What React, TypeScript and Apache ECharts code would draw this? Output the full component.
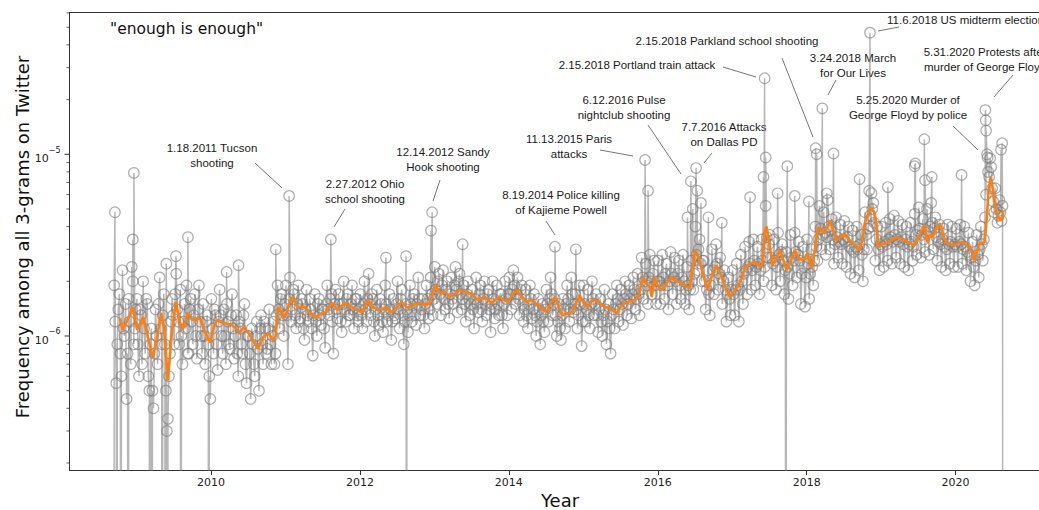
import React, { useEffect, useRef } from "react";
import * as echarts from "echarts";

// ---------------- data (frequencies in units of 1e-6) ----------------
const UNIT = 1e-6;
const ZERO_FLOOR = 1e-12; // days with zero frequency (drawn below the log floor)

// gray samples, pass A: every 1/36 year starting 2008.70
const GRAY_START = 2008.7;
const GRAY_STEP = 1 / 36;
const gray2008 = [1.9, 0.55, 1.4, 0.8, 2.3, 1.0, 0.45, 1.6, 0.7, 2.0, 1.1];
const gray2009 = [1.6, 0.6, 1.3, 2.0, 0.8, 1.5, 0.5, 1.1, 0.4, 1.4, 0.7, 2.1, 0.9, 1.7, 0.5, 0.35, 0.8, 1.6, 0.9, 2.2, 1.2, 1.8, 0.7, 1.5, 1.9, 0.8, 1.6, 0.9, 1.7, 0.75, 1.9, 1.0, 1.5, 0.7, 1.3, 0.6];
const gray2010 = [1.6, 0.8, 1.3, 0.65, 1.8, 1.0, 1.4, 0.7, 1.2, 0.85, 1.7, 0.75, 1.3, 0.6, 1.1, 0.8, 1.5, 0.55, 1.0, 0.45, 0.9, 0.6, 1.2, 0.5, 1.3, 0.7, 1.1, 0.85, 1.4, 0.7, 1.2, 0.8, 1.9, 1.1, 1.7, 1.0];
const gray2011 = [1.9, 0.7, 2.1, 1.4, 1.7, 1.1, 1.9, 1.25, 1.5, 0.95, 1.8, 1.2, 1.4, 0.78, 1.7, 1.0, 1.6, 1.15, 1.4, 0.86, 1.9, 1.3, 1.7, 0.8, 1.8, 1.25, 1.5, 1.05, 2.0, 1.2, 1.7, 1.3, 1.9, 1.1, 1.6, 1.2];
const gray2012 = [1.7, 1.1, 2.0, 1.2, 2.2, 1.3, 1.6, 1.0, 1.8, 1.15, 1.5, 1.05, 1.9, 1.2, 1.7, 0.95, 1.6, 1.25, 2.0, 1.1, 1.8, 0.9, 1.5, 1.05, 1.9, 1.2, 1.7, 1.15, 2.1, 1.3, 1.6, 1.1, 1.9, 1.25, 2.1, 1.3];
const gray2013 = [2.4, 1.5, 2.2, 1.3, 2.3, 1.4, 2.0, 1.25, 2.1, 1.5, 2.4, 1.35, 2.2, 1.4, 1.9, 1.2, 2.0, 1.3, 1.8, 1.1, 2.1, 1.35, 1.9, 1.2, 2.0, 1.3, 1.8, 1.05, 2.0, 1.25, 1.9, 1.3, 1.7, 1.1, 2.0, 1.3];
const gray2014 = [2.1, 1.4, 2.3, 1.5, 2.1, 1.3, 1.9, 1.2, 1.8, 1.1, 1.9, 1.25, 1.7, 1.0, 1.6, 0.9, 1.5, 1.05, 1.8, 1.2, 2.1, 1.3, 1.6, 1.0, 1.5, 0.95, 1.6, 1.1, 1.9, 1.2, 2.1, 1.35, 1.7, 1.1, 1.9, 0.88];
const gray2015 = [1.9, 1.2, 1.8, 1.1, 2.0, 1.3, 1.7, 1.05, 1.6, 1.0, 1.8, 0.9, 1.5, 0.8, 1.7, 1.1, 1.9, 1.2, 1.8, 1.15, 2.0, 1.3, 1.9, 1.25, 2.1, 1.4, 2.2, 1.3, 2.7, 1.6, 2.5, 1.5, 2.8, 1.7, 2.6, 1.5];
const gray2016 = [2.6, 1.5, 2.8, 1.6, 2.5, 1.4, 2.9, 1.7, 2.7, 1.5, 2.6, 1.6, 2.8, 1.5, 2.4, 1.4, 2.6, 1.8, 4.0, 2.3, 3.4, 2.0, 2.6, 1.4, 2.3, 1.3, 3.0, 1.7, 3.2, 1.8, 2.7, 1.5, 2.3, 1.2, 2.1, 1.3];
const gray2017 = [2.3, 1.3, 2.5, 1.2, 2.8, 1.5, 3.1, 1.7, 3.3, 1.8, 3.4, 1.9, 3.1, 1.7, 3.4, 2.0, 5.2, 2.7, 3.6, 1.9, 3.4, 1.8, 3.7, 2.0, 3.2, 1.7, 2.9, 1.6, 3.6, 1.9, 3.7, 2.1, 3.3, 1.5, 3.1, 1.45];
const gray2018 = [3.4, 1.6, 3.0, 1.9, 4.0, 2.6, 5.2, 3.0, 4.8, 2.8, 5.6, 3.0, 4.4, 2.5, 4.5, 2.7, 4.1, 2.5, 4.3, 2.4, 4.0, 2.2, 3.8, 2.1, 4.0, 2.3, 3.6, 2.0, 4.8, 3.0, 6.3, 4.0, 5.4, 2.6, 4.0, 2.3];
const gray2019 = [4.0, 2.4, 4.2, 2.6, 4.4, 2.5, 4.6, 2.7, 4.3, 2.5, 4.1, 2.4, 4.0, 2.3, 4.2, 2.6, 4.7, 2.8, 5.1, 2.7, 4.4, 2.9, 5.0, 2.8, 5.4, 3.0, 4.5, 2.6, 4.1, 2.4, 3.9, 2.3, 4.1, 2.5, 4.0, 2.4];
const gray2020 = [3.9, 2.4, 4.1, 2.5, 4.0, 2.3, 3.7, 2.0, 3.3, 1.9, 3.6, 2.1, 4.0, 2.6, 4.5, 10, 7.5, 8.5, 5.5, 6.5, 4.2, 5.6, 4.3];

// gray samples, pass B: same spacing, shifted by half a step
const midB2008 = [1.2, 0.9, 1.7, 0.6, 1.1, 1.5, 0.8, 1.2, 2.4, 0.9, 1.4];
const midB2009 = [0.9, 1.4, 0.7, 1.1, 1.6, 0.6, 0.9, 0.5, 0.8, 1.0, 1.5, 1.1, 1.3, 0.9, 0.3, 0.6, 1.2, 1.3, 1.7, 1.4, 0.9, 1.0, 1.2, 1.1, 0.8, 1.4, 1.2, 1.3, 1.0, 1.4, 1.2, 0.8, 1.0, 1.2, 0.9, 0.45];
const midB2010 = [1.1, 1.4, 0.9, 1.2, 1.3, 0.8, 1.0, 1.5, 0.9, 1.3, 1.1, 1.0, 0.8, 1.2, 0.9, 1.3, 0.7, 1.0, 0.8, 1.1, 0.7, 1.0, 0.85, 1.1, 0.9, 1.2, 0.8, 1.1, 0.9, 1.0, 0.7, 1.3, 1.4, 1.6, 1.3, 1.5];
const midB2011 = [1.3, 1.6, 1.2, 1.8, 1.3, 1.5, 1.2, 1.6, 1.1, 1.4, 1.3, 1.6, 1.1, 1.3, 1.2, 1.5, 1.3, 1.4, 1.1, 1.5, 1.4, 1.6, 1.2, 1.5, 1.4, 1.7, 1.2, 1.5, 1.4, 1.6, 1.3, 1.5, 1.4, 1.6, 1.3, 1.4];
const midB2012 = [1.3, 1.5, 1.4, 1.6, 1.5, 1.7, 1.2, 1.4, 1.3, 1.6, 1.2, 1.4, 1.5, 1.3, 1.4, 1.2, 1.3, 1.5, 1.4, 1.6, 1.3, 1.2, 1.4, 1.3, 1.5, 1.6, 1.3, 1.5, 1.6, 1.4, 1.3, 1.5, 1.6, 1.4, 1.7, 1.6];
const midB2013 = [1.8, 2.0, 1.7, 1.9, 1.6, 1.8, 1.5, 1.7, 1.6, 1.9, 1.8, 2.0, 1.7, 1.6, 1.5, 1.7, 1.6, 1.5, 1.4, 1.6, 1.5, 1.7, 1.4, 1.6, 1.5, 1.7, 1.4, 1.5, 1.6, 1.4, 1.5, 1.7, 1.3, 1.5, 1.6, 1.7];
const midB2014 = [1.7, 1.8, 1.9, 1.7, 1.6, 1.8, 1.5, 1.4, 1.3, 1.5, 1.6, 1.4, 1.3, 1.2, 1.4, 1.3, 1.2, 1.4, 1.5, 1.6, 1.7, 1.5, 1.3, 1.2, 1.1, 1.3, 1.4, 1.5, 1.6, 1.4, 1.7, 1.5, 1.4, 1.3, 1.5, 1.2];
const midB2015 = [1.5, 1.4, 1.3, 1.5, 1.6, 1.5, 1.3, 1.4, 1.2, 1.3, 1.4, 1.2, 1.1, 1.3, 1.4, 1.5, 1.6, 1.4, 1.5, 1.6, 1.7, 1.5, 1.6, 1.7, 1.8, 1.6, 1.7, 1.8, 2.1, 2.0, 1.9, 2.1, 2.0, 2.2, 1.9, 2.0];
const midB2016 = [2.0, 1.9, 2.1, 2.2, 1.9, 2.0, 2.2, 2.1, 2.0, 2.2, 1.9, 2.1, 2.0, 1.8, 1.9, 1.8, 2.0, 2.2, 2.8, 3.0, 2.5, 2.6, 2.0, 1.8, 1.7, 1.9, 2.3, 2.4, 2.5, 2.2, 2.1, 2.0, 1.8, 1.7, 1.6, 1.8];
const midB2017 = [1.7, 1.8, 1.9, 1.8, 2.0, 2.2, 2.3, 2.4, 2.5, 2.3, 2.6, 2.4, 2.5, 2.3, 2.6, 2.4, 3.5, 3.2, 2.7, 2.5, 2.6, 2.4, 2.8, 2.9, 2.6, 2.3, 2.4, 2.2, 2.7, 2.6, 2.9, 2.8, 2.6, 2.2, 2.4, 2.1];
const midB2018 = [2.5, 2.2, 2.4, 2.6, 3.1, 3.4, 3.9, 3.6, 3.7, 3.5, 4.0, 3.8, 3.4, 3.2, 3.5, 3.3, 3.2, 3.4, 3.3, 3.5, 3.1, 3.0, 2.9, 3.1, 3.0, 3.2, 2.8, 3.0, 3.6, 3.9, 4.6, 5.0, 4.2, 3.4, 3.0, 3.2];
const midB2019 = [3.1, 3.3, 3.2, 3.4, 3.5, 3.3, 3.6, 3.4, 3.3, 3.5, 3.2, 3.4, 3.1, 3.2, 3.3, 3.1, 3.6, 3.8, 3.9, 3.6, 3.4, 3.7, 3.8, 4.0, 4.2, 3.9, 3.5, 3.3, 3.2, 3.4, 3.1, 3.0, 3.2, 3.3, 3.1, 3.2];
const midB2020 = [3.1, 3.3, 3.2, 3.0, 3.1, 2.9, 2.8, 2.7, 2.4, 2.6, 2.8, 3.0, 3.2, 3.4, 6.0, 8.0, 9.5, 6.5, 4.8, 5.0, 4.6, 4.8, 5.2];

// single-day peaks [year, value]
const spikes: [number, number][] = [
  [2008.71, 4.8], [2008.95, 3.4], [2008.965, 7.9], [2009.4, 2.5], [2009.53, 2.75], [2009.69, 3.5],
  [2010.21, 2.25], [2010.37, 2.45], [2010.87, 3.0], [2011.05, 5.9], [2011.61, 3.4], [2012.35, 2.7],
  [2012.62, 2.75], [2012.955, 3.8], [2012.97, 4.8], [2013.38, 3.2], [2014.62, 3.1], [2014.9, 3.0],
  [2015.83, 9.3], [2015.87, 6.3], [2016.4, 4.5], [2016.445, 7.1], [2016.47, 5.0], [2016.515, 8.4],
  [2016.53, 6.3], [2016.58, 5.4], [2016.68, 4.5], [2016.86, 4.2], [2017.24, 5.8], [2017.42, 7.5],
  [2017.435, 26.2], [2017.45, 9.6], [2017.61, 6.1], [2017.74, 8.6], [2017.84, 5.9], [2018.03, 5.5],
  [2018.12, 10.8], [2018.135, 10.0], [2018.21, 17.9], [2018.27, 6.1], [2018.36, 10.1], [2018.71, 7.3],
  [2018.85, 46.7], [2018.87, 6.1], [2019.09, 6.6], [2019.45, 8.6], [2019.46, 8.9], [2019.58, 12.1],
  [2019.59, 7.2], [2019.68, 7.5], [2020.08, 7.7], [2020.4, 17.5], [2020.405, 15.4], [2020.41, 13.5],
  [2020.43, 9.6], [2020.61, 10.6], [2020.625, 11.5],
];

// days with zero occurrences
const zeroDays = [2008.695, 2008.74, 2008.79, 2008.89, 2009.18, 2009.21, 2009.34, 2009.39, 2009.42, 2009.6, 2009.97, 2012.63, 2017.72, 2020.635];

// rolling average [year, value]
const rollingAvg: [number, number][] = [
  [2008.78, 1.25], [2008.81, 1.08], [2008.87, 1.2], [2008.95, 1.44], [2009.01, 1.08], [2009.09, 1.27], [2009.15, 1.0], [2009.22, 0.76],
  [2009.28, 1.0], [2009.33, 1.34], [2009.37, 1.1], [2009.42, 0.57], [2009.48, 1.1], [2009.53, 1.54], [2009.58, 1.2], [2009.62, 1.08],
  [2009.69, 1.34], [2009.74, 1.25], [2009.81, 1.22], [2009.85, 1.27], [2009.92, 1.05], [2009.99, 0.92], [2010.03, 1.1], [2010.08, 1.22],
  [2010.17, 1.18], [2010.28, 1.15], [2010.39, 1.05], [2010.44, 1.12], [2010.5, 1.04], [2010.56, 0.95], [2010.63, 0.85], [2010.7, 0.98],
  [2010.77, 1.04], [2010.83, 0.95], [2010.87, 1.0], [2010.9, 1.44], [2010.95, 1.35], [2010.99, 1.26], [2011.05, 1.5], [2011.09, 1.64],
  [2011.17, 1.44], [2011.25, 1.45], [2011.33, 1.34], [2011.4, 1.26], [2011.46, 1.32], [2011.53, 1.34], [2011.62, 1.52], [2011.7, 1.39],
  [2011.8, 1.52], [2011.89, 1.44], [2011.96, 1.4], [2012.03, 1.35], [2012.11, 1.58], [2012.17, 1.45], [2012.24, 1.39], [2012.31, 1.4],
  [2012.36, 1.44], [2012.42, 1.35], [2012.47, 1.39], [2012.56, 1.54], [2012.62, 1.45], [2012.67, 1.44], [2012.74, 1.5], [2012.81, 1.52],
  [2012.87, 1.48], [2012.94, 1.52], [2013.01, 1.91], [2013.07, 1.72], [2013.14, 1.75], [2013.21, 1.64], [2013.28, 1.7], [2013.34, 1.79],
  [2013.41, 1.75], [2013.48, 1.72], [2013.58, 1.58], [2013.68, 1.64], [2013.77, 1.52], [2013.83, 1.6], [2013.88, 1.64], [2013.93, 1.58],
  [2013.99, 1.54], [2014.05, 1.7], [2014.11, 1.79], [2014.17, 1.65], [2014.24, 1.54], [2014.3, 1.58], [2014.35, 1.52], [2014.43, 1.45],
  [2014.51, 1.35], [2014.56, 1.5], [2014.62, 1.64], [2014.67, 1.45], [2014.72, 1.3], [2014.78, 1.33], [2014.85, 1.35], [2014.9, 1.5],
  [2014.95, 1.68], [2015.01, 1.5], [2015.06, 1.44], [2015.11, 1.55], [2015.15, 1.58], [2015.22, 1.52], [2015.29, 1.45], [2015.36, 1.42],
  [2015.4, 1.38], [2015.45, 1.34], [2015.5, 1.45], [2015.56, 1.52], [2015.62, 1.55], [2015.69, 1.58], [2015.74, 1.65], [2015.8, 2.11],
  [2015.84, 1.95], [2015.89, 1.86], [2015.92, 1.64], [2015.96, 2.11], [2016.0, 1.9], [2016.05, 1.79], [2016.12, 1.95], [2016.19, 2.11],
  [2016.24, 2.0], [2016.3, 1.98], [2016.36, 1.9], [2016.43, 1.83], [2016.47, 2.4], [2016.5, 2.97], [2016.56, 2.61], [2016.62, 2.1],
  [2016.67, 1.79], [2016.72, 2.1], [2016.79, 2.45], [2016.86, 2.11], [2016.91, 1.85], [2016.97, 1.64], [2017.02, 1.75], [2017.07, 1.86],
  [2017.13, 2.1], [2017.17, 2.39], [2017.23, 2.5], [2017.3, 2.55], [2017.4, 2.39], [2017.44, 3.82], [2017.46, 4.0], [2017.5, 3.2],
  [2017.54, 2.45], [2017.6, 2.7], [2017.64, 2.97], [2017.69, 2.6], [2017.73, 2.3], [2017.79, 2.6], [2017.84, 2.97], [2017.89, 2.7],
  [2017.95, 2.61], [2018.01, 2.85], [2018.07, 2.36], [2018.11, 3.0], [2018.15, 3.97], [2018.2, 3.8], [2018.24, 3.68], [2018.31, 4.33],
  [2018.35, 3.9], [2018.4, 3.37], [2018.46, 3.5], [2018.51, 3.68], [2018.56, 3.4], [2018.62, 3.24], [2018.67, 3.1], [2018.71, 2.97],
  [2018.75, 3.4], [2018.78, 4.17], [2018.85, 5.05], [2018.91, 4.8], [2018.94, 4.0], [2018.96, 3.08], [2019.02, 3.2], [2019.09, 3.28],
  [2019.15, 3.4], [2019.22, 3.5], [2019.28, 3.4], [2019.32, 3.37], [2019.38, 3.25], [2019.45, 3.16], [2019.52, 3.6], [2019.58, 4.07],
  [2019.62, 3.28], [2019.66, 3.6], [2019.69, 3.5], [2019.74, 3.9], [2019.79, 4.17], [2019.83, 3.6], [2019.88, 3.24], [2019.93, 3.2],
  [2019.99, 3.16], [2020.03, 3.25], [2020.08, 3.28], [2020.13, 3.2], [2020.19, 3.08], [2020.23, 2.8], [2020.25, 2.61], [2020.3, 3.0],
  [2020.32, 3.24], [2020.39, 3.28], [2020.42, 4.5], [2020.44, 6.1], [2020.47, 7.5], [2020.5, 6.5], [2020.52, 5.6], [2020.56, 4.6],
  [2020.6, 4.33], [2020.63, 4.4], [2020.64, 4.9],
];

// ticks
const xTickYears = [2010, 2012, 2014, 2016, 2018, 2020];
const yMajorTicks = [1e-6, 1e-5];
const yMinorTicks = [2e-7, 3e-7, 4e-7, 5e-7, 6e-7, 7e-7, 8e-7, 9e-7, 2e-6, 3e-6, 4e-6, 5e-6, 6e-6, 7e-6, 8e-6, 9e-6, 2e-5, 3e-5, 4e-5, 5e-5, 6e-5];

// annotations (text layout in pixels)
type Note = { lines: string[]; x: number; y: number; align?: string; leader: number[] };
const notes: Note[] = [
  { lines: ["1.18.2011 Tucson", "shooting"], x: 212, y: 148, leader: [255, 163, 282, 188] },
  { lines: ["2.27.2012 Ohio", "school shooting"], x: 365, y: 184, leader: [345, 209, 334, 227] },
  { lines: ["12.14.2012 Sandy", "Hook shooting"], x: 443, y: 152, leader: [440, 180, 433, 201] },
  { lines: ["8.19.2014 Police killing", "of Kajieme Powell"], x: 561, y: 195, leader: [546, 221, 555, 235] },
  { lines: ["11.13.2015 Paris", "attacks"], x: 569, y: 139, leader: [600, 150, 633, 156] },
  { lines: ["6.12.2016 Pulse", "nightclub shooting"], x: 624, y: 100, leader: [648, 125, 681, 174] },
  { lines: ["7.7.2016 Attacks", "on Dallas PD"], x: 724, y: 127, leader: [712, 153, 704, 163] },
  { lines: ["2.15.2018 Portland train attack"], x: 637, y: 65, leader: [723, 67, 756, 77] },
  { lines: ["2.15.2018 Parkland school shooting"], x: 727, y: 41, leader: [782, 58, 813, 137] },
  { lines: ["3.24.2018 March", "for Our Lives"], x: 853, y: 58, leader: [836, 80, 828, 95] },
  { lines: ["11.6.2018 US midterm election"], x: 887, y: 20, align: "left", leader: [899, 27, 878, 31] },
  { lines: ["5.31.2020 Protests after", "murder of George Floyd"], x: 985, y: 52, leader: [1013, 75, 994, 97] },
  { lines: ["5.25.2020 Murder of", "George Floyd by police"], x: 908, y: 100, leader: [953, 126, 978, 150] },
];

const X_MIN = 2008.1;
const X_MAX = 2021.12;
const Y_MIN = 1.83e-7;
const Y_MAX = 6.045e-5;

const AXIS_COLOR = "#333";
const DV = "DejaVu Sans";
const ARIAL = "Liberation Sans, Arial, sans-serif";

export default function App() {
  const ref = useRef<HTMLDivElement>(null);

  useEffect(() => {
    if (!ref.current) return;
    const chart = echarts.init(ref.current, undefined, { renderer: "svg" });

    const passA = [
      ...gray2008, ...gray2009, ...gray2010, ...gray2011, ...gray2012, ...gray2013,
      ...gray2014, ...gray2015, ...gray2016, ...gray2017, ...gray2018, ...gray2019, ...gray2020,
    ];
    const passB = [
      ...midB2008, ...midB2009, ...midB2010, ...midB2011, ...midB2012, ...midB2013,
      ...midB2014, ...midB2015, ...midB2016, ...midB2017, ...midB2018, ...midB2019, ...midB2020,
    ];
    const grayData = [
      ...passA.map((v, i) => [GRAY_START + i * GRAY_STEP, v * UNIT]),
      ...passB.map((v, i) => [GRAY_START + (i + 0.5) * GRAY_STEP, v * UNIT]),
      ...spikes.map(([t, v]) => [t, v * UNIT]),
      ...zeroDays.map((t) => [t, ZERO_FLOOR]),
    ].sort((a, b) => a[0] - b[0]);
    const avgData = rollingAvg.map(([t, v]) => [t, v * UNIT]);
    const tickData = [
      ...yMajorTicks.map((v) => [X_MIN, v, 1]),
      ...yMinorTicks.map((v) => [X_MIN, v, 0]),
    ];

    const graphics: any[] = [
      {
        type: "text", x: 110, y: 29,
        style: { text: '"enough is enough"', fontSize: 15.5, fontFamily: DV, fill: "#111", align: "left", verticalAlign: "middle", textAlign: "left", textVerticalAlign: "middle" },
      },
      {
        type: "text", x: 22, y: 237, rotation: Math.PI / 2,
        style: { text: "Frequency among all 3-grams on Twitter", fontSize: 18, fontFamily: DV, fill: "#111", align: "center", verticalAlign: "middle", textAlign: "center", textVerticalAlign: "middle" },
      },
      {
        type: "text", x: 560, y: 500,
        style: { text: "Year", fontSize: 18, fontFamily: DV, fill: "#111", align: "center", verticalAlign: "middle", textAlign: "center", textVerticalAlign: "middle" },
      },
    ];
    notes.forEach((n) => {
      const al = n.align || "center";
      n.lines.forEach((line, k) => {
        graphics.push({
          type: "text", x: n.x, y: n.y + k * 14.5,
          style: { text: line, fontSize: 11.5, fontFamily: ARIAL, fill: "#1a1a1a", align: al, verticalAlign: "middle", textAlign: al, textVerticalAlign: "middle" },
        });
      });
      graphics.push({
        type: "line",
        shape: { x1: n.leader[0], y1: n.leader[1], x2: n.leader[2], y2: n.leader[3] },
        style: { stroke: "#666", lineWidth: 0.9 },
      });
    });

    chart.setOption({
      animation: false,
      backgroundColor: "#fff",
      grid: { left: 69.5, right: 0, top: 12.3, bottom: 40, outerBoundsMode: "none", containLabel: false },
      xAxis: [
        {
          type: "value", min: X_MIN, max: X_MAX, position: "bottom",
          axisLine: { show: true, onZero: false, lineStyle: { color: AXIS_COLOR, width: 1 } },
          axisTick: { show: true, customValues: xTickYears, length: 5, inside: false, lineStyle: { color: AXIS_COLOR, width: 1 } },
          axisLabel: { show: true, customValues: xTickYears, formatter: (v: number) => String(v), margin: 7, fontSize: 11, fontFamily: DV, color: "#222" },
          splitLine: { show: false },
        },
        {
          type: "value", min: X_MIN, max: X_MAX, position: "top",
          axisLine: { show: true, onZero: false, lineStyle: { color: AXIS_COLOR, width: 1 } },
          axisTick: { show: false }, axisLabel: { show: false }, splitLine: { show: false },
        },
      ],
      yAxis: {
        type: "log", logBase: 10, min: Y_MIN, max: Y_MAX,
        axisLine: { show: true, onZero: false, lineStyle: { color: AXIS_COLOR, width: 1 } },
        axisTick: { show: false }, axisLabel: { show: false }, splitLine: { show: false }, minorTick: { show: false },
      },
      series: [
        {
          type: "line", name: "daily", data: grayData, xAxisIndex: 0,
          symbol: "circle", symbolSize: 10.5, showSymbol: true, showAllSymbol: true,
          lineStyle: { color: "#7a7a7a", width: 1.5, opacity: 0.55 },
          itemStyle: { color: "rgba(255,255,255,0)", borderColor: "#7a7a7a", borderWidth: 1.2, opacity: 0.6 },
          clip: true, silent: true, emphasis: { disabled: true }, z: 2,
        },
        {
          type: "line", name: "rolling", data: avgData, xAxisIndex: 0,
          symbol: "none", showSymbol: false,
          lineStyle: { color: "#ff7f0e", width: 2.6 },
          clip: true, silent: true, emphasis: { disabled: true }, z: 3,
        },
        {
          type: "custom", name: "yticks", data: tickData, xAxisIndex: 0,
          dimensions: ["x", "y", "major"], encode: { x: 0, y: 1 },
          clip: false, silent: true, z: 4,
          renderItem: (params: any, api: any) => {
            const p = api.coord([api.value(0), api.value(1)]);
            const major = api.value(2) === 1;
            const children: any[] = [
              {
                type: "line",
                shape: { x1: p[0] - (major ? 5 : 3), y1: p[1], x2: p[0], y2: p[1] },
                style: { stroke: AXIS_COLOR, lineWidth: major ? 1 : 0.8 },
              },
            ];
            if (major) {
              const e = Math.round(Math.log10(api.value(1)));
              children.push({
                type: "text", x: p[0] - 9, y: p[1] + 1,
                style: {
                  text: `{b|10}{s|\u2212${-e}}`,
                  align: "right", verticalAlign: "middle", textAlign: "right", textVerticalAlign: "middle",
                  rich: {
                    b: { fontSize: 11, fontFamily: DV, fill: "#222", lineHeight: 18, verticalAlign: "bottom" },
                    s: { fontSize: 8, fontFamily: DV, fill: "#222", lineHeight: 10, verticalAlign: "top" },
                  },
                },
              });
            }
            return { type: "group", children };
          },
        },
      ],
      graphic: graphics,
    });

    return () => chart.dispose();
  }, []);

  return (
    <div
      ref={ref}
      style={{ position: "absolute", left: 0, top: 0, width: 1039, height: 510, background: "#fff" }}
    />
  );
}
